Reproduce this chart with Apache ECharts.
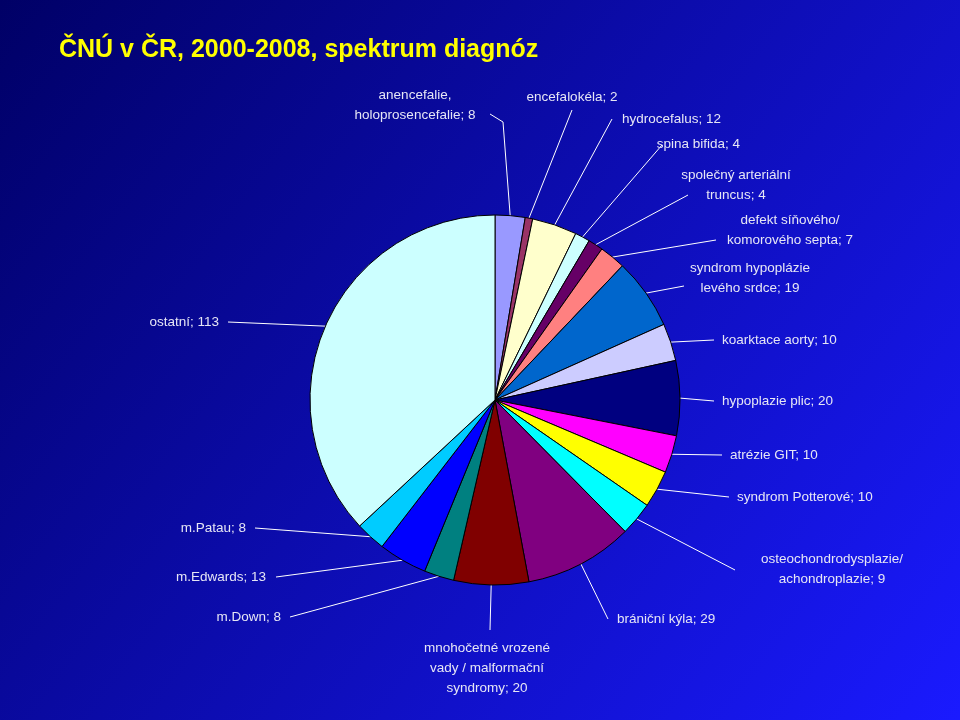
<!DOCTYPE html>
<html><head><meta charset="utf-8">
<script src="https://cdn.jsdelivr.net/npm/echarts@6/dist/echarts.min.js"></script>
<style>html,body{margin:0;padding:0}#c{width:960px;height:720px}</style>
</head><body><div id="c"></div>
<script>
const names = ["anencefalie,\nholoprosencefalie; 8", "encefalokéla; 2", "hydrocefalus; 12", "spina bifida; 4",
  "společný arteriální\ntruncus; 4", "defekt síňového/\nkomorového septa; 7", "syndrom hypoplázie\nlevého srdce; 19",
  "koarktace aorty; 10", "hypoplazie plic; 20", "atrézie GIT; 10", "syndrom Potterové; 10",
  "osteochondrodysplazie/\nachondroplazie; 9", "brániční kýla; 29", "mnohočetné vrozené\nvady / malformační\nsyndromy; 20",
  "m.Down; 8", "m.Edwards; 13", "m.Patau; 8", "ostatní; 113"];
const values = [8, 2, 12, 4, 4, 7, 19, 10, 20, 10, 10, 9, 29, 20, 8, 13, 8, 113];
const colors = ["#9999FF", "#993366", "#FFFFCC", "#CCFFFF", "#660066", "#FF8080", "#0066CC", "#CCCCFF",
  "#000080", "#FF00FF", "#FFFF00", "#00FFFF", "#800080", "#800000", "#008080", "#0000FF", "#00CCFF", "#CCFFFF"];
// label anchor: [x, y, align, stubX, stubY, lineEndX, lineEndY]
const anchors = [
  [415, 105, "center", 490, 114, 503, 122], [572, 97, "center", 572, 110, 572, 110], [622, 119, "left", 612, 119, 612, 119],
  [740, 144, "right", 662, 145, 662, 145], [736, 185, "center", 688, 195, 688, 195], [790, 230, "center", 716, 240, 716, 240],
  [750, 278, "center", 684, 286, 684, 286], [722, 340, "left", 714, 340, 714, 340], [722, 401, "left", 714, 401, 714, 401],
  [730, 455, "left", 722, 455, 722, 455], [737, 497, "left", 729, 497, 729, 497], [832, 569, "center", 735, 570, 735, 570],
  [617, 619, "left", 608, 619, 608, 619], [487, 668, "center", 490, 630, 490, 630], [281, 617, "right", 290, 617, 290, 617],
  [266, 577, "right", 276, 577, 276, 577], [246, 528, "right", 255, 528, 255, 528], [219, 322, "right", 228, 322, 228, 322]];

const chart = echarts.init(document.getElementById("c"));
chart.setOption({
  animation: false,
  backgroundColor: new echarts.graphic.LinearGradient(0, 0, 1, 1, [
    { offset: 0, color: "#000066" }, { offset: 1, color: "#1a1aff" }]),
  title: {
    text: "ČNÚ v ČR, 2000-2008, spektrum diagnóz", left: 54, top: 33,
    textStyle: { color: "#FFFF00", fontSize: 25, fontWeight: "bold", fontFamily: "Liberation Sans" }
  },
  series: [{
    type: "pie", center: [495, 400], radius: 185, startAngle: 90, clockwise: true,
    data: values.map((v, i) => ({ name: names[i], value: v, itemStyle: { color: colors[i] } })),
    itemStyle: { borderColor: "#000", borderWidth: 1 },
    label: {
      show: true, position: "outside", formatter: "{b}", color: "#E6E6F5",
      fontSize: 13.5, lineHeight: 20, fontFamily: "Liberation Sans"
    },
    labelLine: { show: true, length: 10, length2: 10, lineStyle: { color: "#ffffff", width: 1 } },
    emphasis: { disabled: true },
    labelLayout: function (p) {
      const a = anchors[p.dataIndex];
      const p0 = p.labelLinePoints ? p.labelLinePoints[0] : [a[5], a[6]];
      return {
        x: a[0], y: a[1], align: a[2], verticalAlign: "middle",
        labelLinePoints: [p0, [a[5], a[6]], [a[3], a[4]]]
      };
    }
  }]
});
</script></body></html>
